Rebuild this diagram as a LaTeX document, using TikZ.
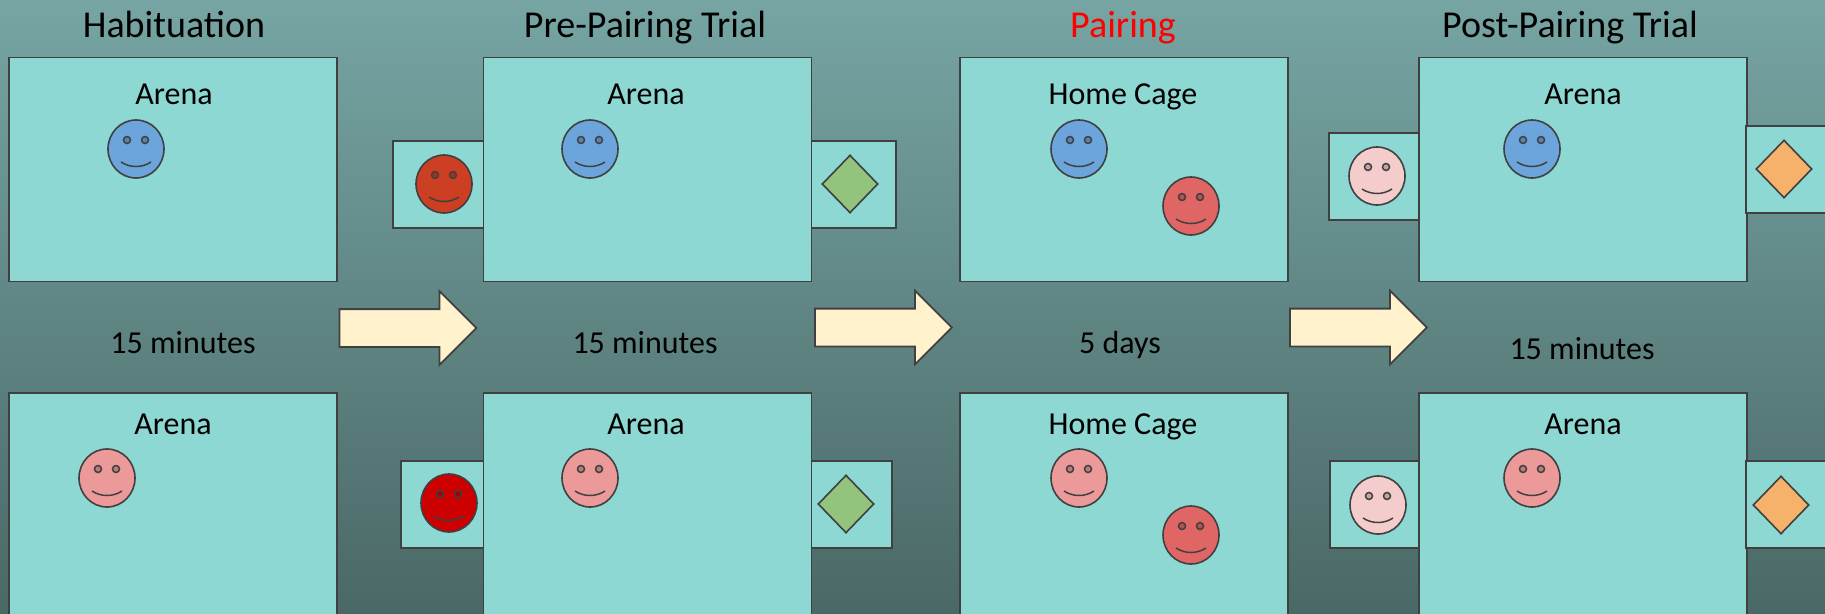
\documentclass[tikz,border=0pt]{standalone}
\usepackage{fontspec}
\setmainfont{Carlito}
\usepackage{tikz}
\usetikzlibrary{shapes.geometric,shapes.arrows}

\definecolor{bgTop}{HTML}{76A5A3}
\definecolor{bgBottom}{HTML}{4A6866}
\definecolor{cageFill}{HTML}{8DD8D2}
\definecolor{edgeGray}{HTML}{404040}
\definecolor{miceBlue}{HTML}{6CA5DC}
\definecolor{micePink}{HTML}{EC9999}
\definecolor{paleMouse}{HTML}{F4CCCC}
\definecolor{rustMouse}{HTML}{CC3F22}
\definecolor{deepMouse}{HTML}{CC0000}
\definecolor{mateMouse}{HTML}{E06666}
\definecolor{objGreen}{HTML}{93C47D}
\definecolor{objOrange}{HTML}{F6B26B}
\definecolor{arrowCream}{HTML}{FFF2CC}

%% A smiling face: name, centre x, centre y, fill.
\newcommand{\smiley}[4]{%
  \node[faceStyle,fill=#4] (#1) at (#2,#3) {};
  \draw[eyeStyle,fill=#4!80!black] (#2-9,#3-9) circle (3.5);
  \draw[eyeStyle,fill=#4!80!black] (#2+9,#3-9) circle (3.5);
  \draw[eyeStyle] (#2-15,#3+13) .. controls (#2-6,#3+19) and (#2+6,#3+19) .. (#2+15,#3+13);
}

\begin{document}
\begin{tikzpicture}[%%
  x=1pt,y=-1pt,%%
  cageStyle/.style={draw=edgeGray,line width=1.8pt,fill=cageFill,inner sep=0pt},%%
  faceStyle/.style={draw=edgeGray,line width=1.6pt,ellipse,inner sep=0pt,minimum width=56pt,minimum height=58pt},%%
  eyeStyle/.style={draw=edgeGray,line width=1.5pt},%%
  objStyle/.style={draw=edgeGray,line width=1.6pt,diamond,inner sep=0pt,minimum width=56pt,minimum height=58pt},%%
  arrowStyle/.style={draw=edgeGray,line width=1.8pt,fill=arrowCream,single arrow,inner sep=0pt,%%
    text height=36pt,text depth=0pt,minimum height=137pt,minimum width=72pt,%%
    single arrow head extend=18pt,single arrow head indent=0pt},%%
  titleStyle/.style={font=\fontsize{38}{40}\selectfont,text=black,inner sep=0pt,text height=24pt,text depth=0pt},%%
  labelStyle/.style={font=\fontsize{32}{35}\selectfont,text=black,inner sep=0pt,text height=20pt,text depth=0pt}%%
]
%%
\useasboundingbox (0,0) rectangle (1825,613);
\clip (0,0) rectangle (1825,613);
%% Background.
\shade[top color=bgTop,bottom color=bgBottom] (0,0) rectangle (1825,613);
%%
%% Stage titles.
\node[titleStyle] (titleHabit) at (174,25) {Habituation};
\node[titleStyle] (titlePre) at (645,25) {Pre-Pairing Trial};
\node[titleStyle,text=red] (titlePair) at (1123,25) {Pairing};
\node[titleStyle] (titlePost) at (1570,25) {Post-Pairing Trial};
%%
%% Side compartments, behind the cages.
\node[cageStyle,minimum width=100pt,minimum height=87pt] (sideTopPreL) at (443,184.5) {};
\node[cageStyle,minimum width=100pt,minimum height=87pt] (sideTopPreR) at (846,184.5) {};
\node[cageStyle,minimum width=100pt,minimum height=87pt] (sideTopPostL) at (1379,176.5) {};
\node[cageStyle,minimum width=100pt,minimum height=87pt] (sideBotPreL) at (451,504.5) {};
\node[cageStyle,minimum width=100pt,minimum height=87pt] (sideBotPreR) at (842,504.5) {};
\node[cageStyle,minimum width=100pt,minimum height=87pt] (sideBotPostL) at (1380,504.5) {};
%%
%% Top row of cages.
\node[cageStyle,minimum width=328pt,minimum height=224pt] (cageTopA) at (173,169.5) {};
\node[cageStyle,minimum width=328pt,minimum height=224pt] (cageTopB) at (647.5,169.5) {};
\node[cageStyle,minimum width=328pt,minimum height=224pt] (cageTopC) at (1124,169.5) {};
\node[cageStyle,minimum width=328pt,minimum height=224pt] (cageTopD) at (1583,169.5) {};
%% Bottom row of cages.
\node[cageStyle,minimum width=328pt,minimum height=244pt] (cageBotA) at (173,515) {};
\node[cageStyle,minimum width=328pt,minimum height=244pt] (cageBotB) at (647.5,515) {};
\node[cageStyle,minimum width=328pt,minimum height=244pt] (cageBotC) at (1124,515) {};
\node[cageStyle,minimum width=328pt,minimum height=244pt] (cageBotD) at (1583,515) {};
%% These two lie over the last cages.
\node[cageStyle,minimum width=100pt,minimum height=87pt] (sideTopPostR) at (1796,169.5) {};
\node[cageStyle,minimum width=100pt,minimum height=87pt] (sideBotPostR) at (1796,504.5) {};
%%
%% Cage names.
\node[labelStyle] (nameTopA) at (174,94) {Arena};
\node[labelStyle] (nameTopB) at (646,94) {Arena};
\node[labelStyle] (nameTopC) at (1123,94) {Home Cage};
\node[labelStyle] (nameTopD) at (1583,94) {Arena};
\node[labelStyle] (nameBotA) at (173,424) {Arena};
\node[labelStyle] (nameBotB) at (646,424) {Arena};
\node[labelStyle] (nameBotC) at (1123,424) {Home Cage};
\node[labelStyle] (nameBotD) at (1583,424) {Arena};
%%
%% Times between the rows.
\node[labelStyle] (timeA) at (183,343) {15 minutes};
\node[labelStyle] (timeB) at (645,343) {15 minutes};
\node[labelStyle] (timeC) at (1120,343) {5 days};
\node[labelStyle] (timeD) at (1582,349) {15 minutes};
%%
%% Faces, top row.
\smiley{faceTopA}{136}{149}{miceBlue}
\smiley{faceTopB}{590}{149}{miceBlue}
\smiley{faceTopBL}{444}{184}{rustMouse}
\smiley{faceTopC}{1079}{149}{miceBlue}
\smiley{faceTopCM}{1191}{206}{mateMouse}
\smiley{faceTopD}{1532}{149}{miceBlue}
\smiley{faceTopDL}{1377}{176}{paleMouse}
%% Faces, bottom row.
\smiley{faceBotA}{107}{478}{micePink}
\smiley{faceBotB}{590}{478}{micePink}
\smiley{faceBotBL}{449}{503}{deepMouse}
\smiley{faceBotC}{1079}{478}{micePink}
\smiley{faceBotCM}{1191}{535}{mateMouse}
\smiley{faceBotD}{1532}{478}{micePink}
\smiley{faceBotDL}{1378}{505}{paleMouse}
%%
%% Objects.
\node[objStyle,fill=objGreen] (objTopB) at (850,184) {};
\node[objStyle,fill=objGreen] (objBotB) at (846,504) {};
\node[objStyle,fill=objOrange] (objTopD) at (1784,169) {};
\node[objStyle,fill=objOrange] (objBotD) at (1781,505) {};
%%
%% Arrows between the stages.
\node[arrowStyle] (stepA) at (398.5,328) {};
\node[arrowStyle] (stepB) at (874,327.5) {};
\node[arrowStyle] (stepC) at (1349,327.5) {};
\end{tikzpicture}
\end{document}
